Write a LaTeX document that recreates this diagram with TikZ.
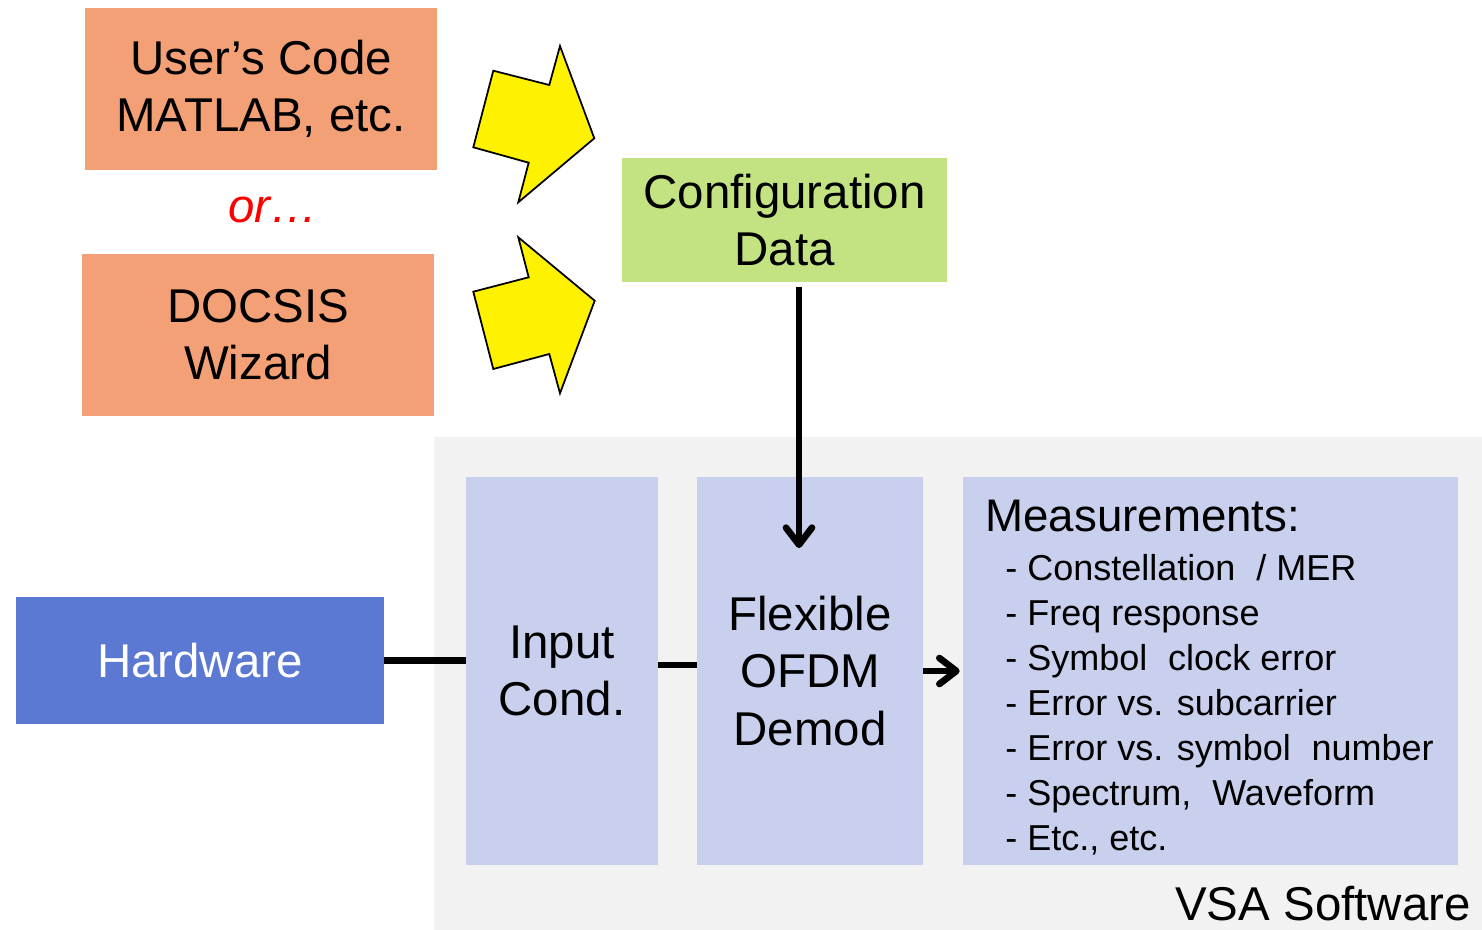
\documentclass[tikz,border=0pt]{standalone}
\usepackage{fontspec}
\setmainfont{Liberation Sans}
\usetikzlibrary{positioning, calc, arrows.meta}
\definecolor{srcfill}{HTML}{F4A077}
\definecolor{cfgfill}{HTML}{C3E281}
\definecolor{blkfill}{HTML}{C9D0EE}
\definecolor{hwfill}{HTML}{5B78D3}
\definecolor{vsafill}{HTML}{F2F2F2}

\begin{document}
\begin{tikzpicture}[x=0.02cm, y=-0.02cm,
    big/.style={font=\fontsize{27}{32.5}\selectfont, align=center},
    box/.style={rectangle, inner sep=0pt, big},
    srcbox/.style={box, fill=srcfill, minimum width=7.04cm, minimum height=3.24cm},
    blkbox/.style={box, fill=blkfill, minimum height=7.76cm},
    conn/.style={line width=3.8pt},
    tip/.style={-{Straight Barb[length=0.34cm, width=0.52cm, round]}},
    pointer/.style={fill=yellow, draw=black, line width=1pt, line join=miter}]
        \useasboundingbox (0,0) rectangle (1482,930);
        % software area
        \fill[vsafill] (434,437) rectangle (1482,930);
        \node[big, anchor=base east, inner sep=0pt] (vsa) at (1471,920) {VSA Software};
        % sources
        \node[srcbox] (user) at (261,89) {User’s Code\\MATLAB, etc.};
        \node[big, text=red, font=\fontsize{27}{32.5}\selectfont\itshape] (or) at (273,210) {or\ldots};
        \node[srcbox] (docsis) at (258,335) {DOCSIS\\Wizard};
        \filldraw[pointer] (493.3,70.7) -- (549.3,85) -- (560,46) -- (594.3,138.3) -- (518.3,202.3) -- (528.7,162.7) -- (473.3,147.3) -- cycle;
        \filldraw[pointer] (518.3,237.3) -- (594.7,300.7) -- (560,393.3) -- (549.3,354) -- (493.3,369) -- (473.3,291.7) -- (528.7,277.3) -- cycle;
        \node[box, fill=cfgfill, minimum width=6.5cm, minimum height=2.48cm] (cfg) at (784.5,220) {Configuration\\Data};
        % blocks
        \node[box, fill=hwfill, text=white, minimum width=7.36cm, minimum height=2.54cm] (hw) at (200,660.5) {Hardware};
        \node[blkbox, minimum width=3.84cm] (input) at (562,671) {Input\\Cond.};
        \node[blkbox, minimum width=4.52cm] (flex) at (810,671) {Flexible\\OFDM\\Demod};
        \node[blkbox, minimum width=9.9cm] (meas) at (1210.5,671) {};
        \node[anchor=north west, inner sep=0pt, font=\fontsize{26}{30}\selectfont] (meastitle) at (985,500) {Measurements:};
        \node[anchor=north west, inner sep=0pt, align=left, font=\fontsize{20.5}{25.6}\selectfont] (measlist) at (1005,554)
            {- Constellation\hspace{0.3em} / MER\\
             - Freq response\\
             - Symbol\hspace{0.3em} clock error\\
             - Error vs. subcarrier\\
             - Error vs. symbol\hspace{0.3em} number\\
             - Spectrum,\hspace{0.3em} Waveform\\
             - Etc., etc.};
        % connectors
        \coordinate (flexin) at (799,548);
        \draw[conn, tip, shorten <=0.1cm] (cfg.south -| flexin) -- (flexin);
        \draw[conn] (hw.east) -- (hw.east -| input.west);
        \draw[conn] ([yshift=0.12cm]input.east) -- ([yshift=0.12cm]input.east -| flex.west);
        \draw[conn, tip, shorten >=0.06cm] (flex.east) -- (meas.west);
    \end{tikzpicture}
\end{document}
